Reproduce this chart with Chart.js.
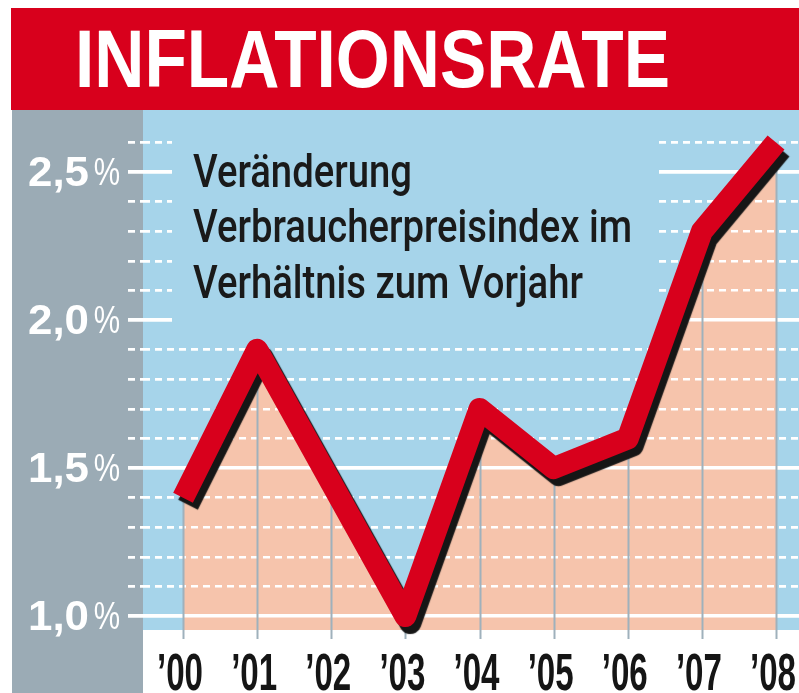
<!DOCTYPE html>
<html>
<head>
<meta charset="utf-8">
<script src="https://cdn.jsdelivr.net/npm/chart.js@4"></script>
<style>
  html, body { margin: 0; padding: 0; background: #fff; }
  canvas { display: block; }
</style>
</head>
<body>
<canvas id="chart" width="799" height="693"></canvas>
<script>
// Chart data
const years = ['’00', '’01', '’02', '’03', '’04', '’05', '’06', '’07', '’08'];
const inflation = [1.4, 1.9, 1.45, 1.0, 1.7, 1.5, 1.6, 2.3, 2.6];
const yTicks = [1.0, 1.1, 1.2, 1.3, 1.4, 1.5, 1.6, 1.7, 1.8, 1.9, 2.0, 2.1, 2.2, 2.3, 2.4, 2.5, 2.6];
const yLabelValues = [1.0, 1.5, 2.0, 2.5];
const yLabelTexts = ['1,0', '1,5', '2,0', '2,5'];

const titleText = 'INFLATIONSRATE';
const noteLines = ['Veränderung', 'Verbraucherpreisindex im', 'Verhältnis zum Vorjahr'];

// Colours
const RED = '#d8001c';
const BLUE = '#a6d4ea';
const GREY = '#9babb5';
const SALMON = '#f6c4ac';
const VLINE = '#9fb1bc';

function isMajor(v) {
    return Math.abs(v * 2 - Math.round(v * 2)) < 1e-6;
}

// draw text squeezed horizontally by sx
function squeezeText(ctx, text, x, y, sx, align) {
    ctx.save();
    ctx.translate(x, y);
    ctx.scale(sx, 1);
    ctx.textAlign = align;
    ctx.fillText(text, 0, 0);
    ctx.restore();
}

const layoutPlugin = {
    id: 'layoutPlugin',
    beforeDraw(chart) {
        const ctx = chart.ctx;
        const area = chart.chartArea;
        ctx.save();
        ctx.fillStyle = '#fff';
        ctx.fillRect(0, 0, chart.width, chart.height);
        // red title bar
        ctx.fillStyle = RED;
        ctx.fillRect(11, 8, chart.width - 11, area.top - 8);
        // grey band
        ctx.fillStyle = GREY;
        ctx.fillRect(12, area.top, area.left - 12, chart.height - area.top);
        // blue plot background
        ctx.fillStyle = BLUE;
        ctx.fillRect(area.left, area.top, area.right - area.left, area.bottom - area.top);
        // title
        ctx.fillStyle = '#fff';
        ctx.font = 'bold 82px "Liberation Sans", Arial, sans-serif';
        ctx.textBaseline = 'alphabetic';
        const w = ctx.measureText(titleText).width;
        squeezeText(ctx, titleText, 75, 87, 595 / w, 'left');
        ctx.restore();
    },
    beforeDatasetDraw(chart, args) {
        if (args.index === 0) {
            const ctx = chart.ctx;
            ctx.save();
            ctx.shadowColor = '#161616';
            ctx.shadowOffsetX = 5;
            ctx.shadowOffsetY = 7;
            ctx.shadowBlur = 1;
        }
    },
    afterDatasetDraw(chart, args) {
        const ctx = chart.ctx;
        if (args.index === 0) {
            ctx.restore();
            return;
        }
        // fill is done: grid on top of it, then note box and drop lines
        const area = chart.chartArea;
        const xs = chart.scales.x;
        const ys = chart.scales.y;
        ctx.save();
        ys.drawGrid(area);
        ctx.restore();

        ctx.save();
        ctx.fillStyle = BLUE;
        ctx.fillRect(172, 124, 487, 210);
        ctx.fillStyle = '#1a1a1a';
        ctx.font = '500 46px Roboto, "Liberation Sans", sans-serif';
        ctx.textBaseline = 'alphabetic';
        const sx = 439 / ctx.measureText(noteLines[1]).width;
        const baselines = [187, 242, 298];
        noteLines.forEach((line, i) => squeezeText(ctx, line, 193, baselines[i], sx, 'left'));

        ctx.strokeStyle = VLINE;
        ctx.lineWidth = 2;
        inflation.forEach((v, i) => {
            const px = Math.round(xs.getPixelForValue(i)) + 0.5;
            ctx.beginPath();
            ctx.moveTo(px, ys.getPixelForValue(v));
            ctx.lineTo(px, area.bottom + 9);
            ctx.stroke();
        });
        ctx.restore();
    },
    afterDraw(chart) {
        const ctx = chart.ctx;
        const xs = chart.scales.x;
        const ys = chart.scales.y;
        ctx.save();
        ctx.textBaseline = 'alphabetic';
        // y labels
        ctx.fillStyle = '#fff';
        yLabelValues.forEach((v, i) => {
            const py = ys.getPixelForValue(v);
            ctx.font = 'bold 42px "Liberation Sans", Arial, sans-serif';
            const dw = ctx.measureText('2,5').width;
            squeezeText(ctx, yLabelTexts[i], 89, py + 14, 61 / dw, 'right');
            ctx.font = '38px "Liberation Sans", Arial, sans-serif';
            squeezeText(ctx, '%', 120, py + 13, 0.78, 'right');
        });
        // x labels
        ctx.fillStyle = '#151515';
        ctx.font = 'bold 52px "Liberation Sans", Arial, sans-serif';
        const lx = 46 / ctx.measureText(years[0]).width;
        years.forEach((label, i) => {
            squeezeText(ctx, label, xs.getPixelForValue(i) - 3, 690, lx, 'center');
        });
        ctx.restore();
    }
};

const points = years.map((y, i) => ({ x: i, y: inflation[i] }));

new Chart(document.getElementById('chart'), {
    type: 'line',
    data: {
        datasets: [
            {
                label: 'Inflationsrate',
                data: points,
                borderColor: RED,
                borderWidth: 22,
                borderJoinStyle: 'round',
                borderCapStyle: 'butt',
                pointRadius: 0,
                fill: false,
                tension: 0,
                clip: false
            },
            {
                label: 'Fläche',
                data: points,
                borderWidth: 0,
                borderColor: 'rgba(0,0,0,0)',
                backgroundColor: SALMON,
                pointRadius: 0,
                fill: 'start',
                tension: 0
            }
        ]
    },
    options: {
        responsive: false,
        animation: false,
        devicePixelRatio: 1,
        layout: { padding: { top: 110, left: 0, right: 0, bottom: 0 } },
        plugins: {
            legend: { display: false },
            tooltip: { enabled: false }
        },
        scales: {
            x: {
                type: 'linear',
                min: -0.54,
                max: 8.31,
                afterBuildTicks: (scale) => { scale.ticks = years.map((y, i) => ({ value: i })); },
                afterFit: (scale) => { scale.height = 63; },
                ticks: { display: false },
                grid: { display: false },
                border: { display: false }
            },
            y: {
                type: 'linear',
                min: 0.953,
                max: 2.71,
                afterBuildTicks: (scale) => { scale.ticks = yTicks.map(v => ({ value: v })); },
                afterFit: (scale) => { scale.width = 143; },
                ticks: { display: false },
                grid: {
                    color: '#fff',
                    tickColor: '#fff',
                    lineWidth: (c) => isMajor(c.tick.value) ? 3.5 : 2.5,
                    tickWidth: (c) => isMajor(c.tick.value) ? 3.5 : 2.5,
                    tickLength: 15,
                    tickBorderDash: (c) => isMajor(c.tick.value) ? [] : [7, 5]
                },
                border: {
                    display: false,
                    dash: (c) => isMajor(c.tick.value) ? [] : [7, 5]
                }
            }
        }
    },
    plugins: [layoutPlugin]
});
</script>
</body>
</html>
